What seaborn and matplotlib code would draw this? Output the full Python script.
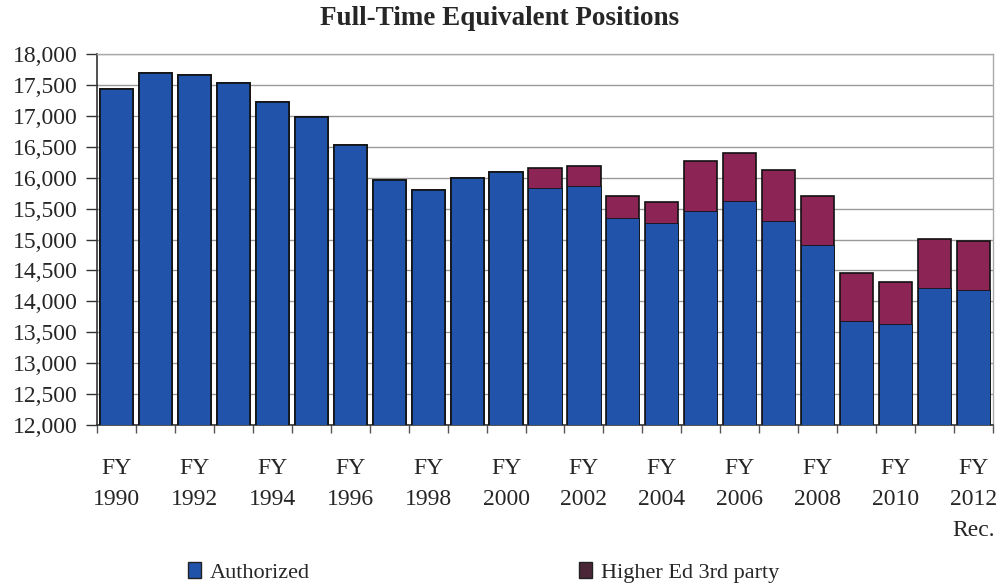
import seaborn as sns
import pandas as pd
import matplotlib.pyplot as plt
from matplotlib.patches import Patch
from matplotlib.ticker import FuncFormatter, FixedLocator

sns.set_style('white')
plt.rcParams['font.family'] = ['Liberation Serif', 'DejaVu Serif']

years = list(range(1990, 2013))
authorized = [17440, 17700, 17670, 17530, 17220, 16980, 16530, 15970, 15800, 15990,
              16090, 15830, 15860, 15350, 15270, 15460, 15620, 15300, 14920, 13680,
              13630, 14210, 14180]
third_party = [0, 0, 0, 0, 0, 0, 0, 0, 0, 0,
               0, 320, 330, 350, 330, 810, 780, 820, 780, 780,
               690, 800, 790]
tick_labels = ['FY\n%d' % y if (y - 1990) % 2 == 0 else '' for y in years]
tick_labels[-1] = 'FY\n2012\nRec.'

df = pd.DataFrame({'Year': [str(y) for y in years],
                   'Authorized': authorized,
                   'ThirdParty': third_party})
df['Total'] = df['Authorized'] + df['ThirdParty']

blue = '#2253ab'
maroon = '#8c2456'

fig = plt.figure(figsize=(10, 5.84), dpi=100)
ax = fig.add_axes([0.097, 0.2723, 0.896, 0.635])

# stacked: total in maroon, authorized in blue over it
sns.barplot(x='Year', y='Total', data=df, color=maroon, saturation=1,
            width=0.85, edgecolor='#111111', linewidth=1.2, ax=ax, zorder=2)
sns.barplot(x='Year', y='Authorized', data=df, color=blue, saturation=1,
            width=0.85, edgecolor='#111111', linewidth=0, ax=ax, zorder=3)
# outline of the blue part
for i, p in enumerate(ax.patches[len(years):]):
    p.set_edgecolor('#111111')
    p.set_linewidth(1.2 if third_party[i] == 0 else 0.6)

ax.set_ylim(12000, 18000)
ax.set_xlim(-0.5, len(years) - 0.5)
ax.set_yticks(range(12000, 18001, 500))
ax.yaxis.set_major_formatter(FuncFormatter(lambda v, p: '{:,.0f}'.format(v)))
ax.set_xticks(range(len(years)))
ax.set_xticklabels(tick_labels, linespacing=1.6)
ax.xaxis.set_minor_locator(FixedLocator([i - 0.5 for i in range(len(years) + 1)]))
ax.tick_params(axis='x', which='major', length=0, pad=24, labelsize=17)
ax.tick_params(axis='x', which='minor', length=6, width=1, color='#555555',
               direction='out', bottom=True)
ax.tick_params(axis='y', length=8, width=1, color='#333333', direction='out',
               left=True, labelsize=17, pad=6)
ax.set_xlabel('')
ax.set_ylabel('')
ax.grid(axis='y', color='#9a9a9a', linewidth=1, zorder=0)
ax.set_axisbelow(True)
for s in ['left', 'bottom']:
    ax.spines[s].set_color('#333333')
    ax.spines[s].set_linewidth(1.2)
for s in ['top', 'right']:
    ax.spines[s].set_color('#aaaaaa')
    ax.spines[s].set_linewidth(1)

fig.suptitle('Full-Time Equivalent Positions', fontsize=19.5, fontweight='bold', y=0.99)

handles = [Patch(facecolor=blue, edgecolor='#222222', label='Authorized'),
           Patch(facecolor='#4a2636', edgecolor='#222222', label='Higher Ed 3rd party')]
fig.legend(handles=handles, loc='lower left', bbox_to_anchor=(0.168, -0.032), ncol=2,
           frameon=False, fontsize=16, handlelength=0.6, handleheight=0.7,
           handletextpad=0.4, columnspacing=12.1)

plt.savefig('out.png', dpi=100)
